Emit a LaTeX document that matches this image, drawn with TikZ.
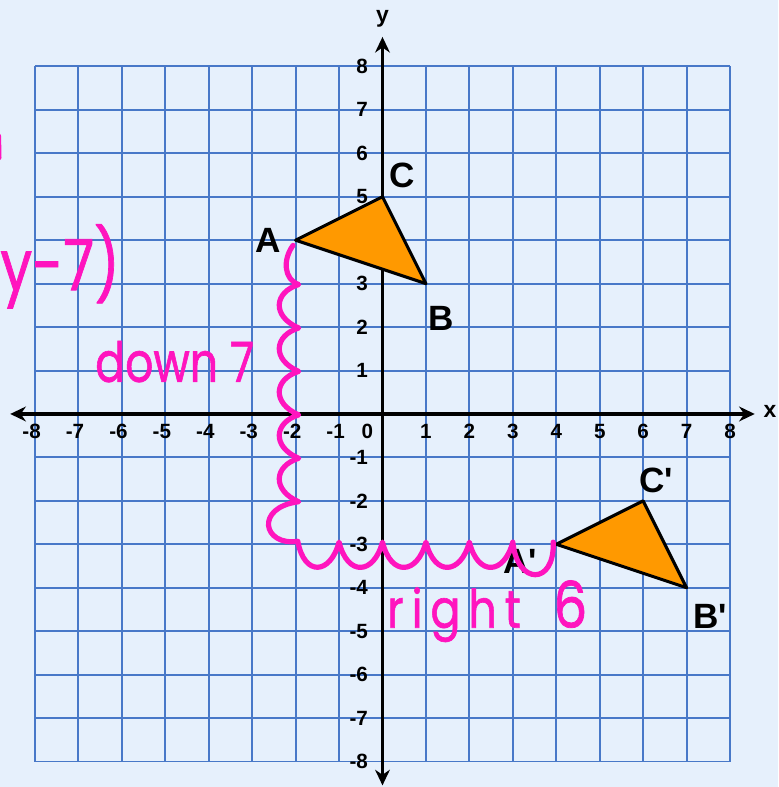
\documentclass[tikz,border=0pt]{standalone}
\usepackage{graphicx}
\usepackage{fontspec}
\setmainfont{Liberation Sans}
\newfontfamily\lbl{Liberation Sans}
\newfontfamily\hand{Poppins}[FakeBold=1.2]
\usetikzlibrary{arrows.meta}
\definecolor{paper}{RGB}{230,240,252}
\definecolor{gridblue}{RGB}{72,120,200}
\definecolor{tri}{RGB}{255,153,0}
\definecolor{pen}{RGB}{255,20,190}
\tikzset{
  gridline/.style={draw=gridblue,line width=1.3pt},
  axis/.style={line width=2.1pt,{Stealth[length=3.6mm,width=3.4mm]}-{Stealth[length=3.6mm,width=3.4mm]}},
  tick/.style={font=\fontsize{13.5}{14}\selectfont\bfseries,inner sep=0pt},
  ptlabel/.style={font=\lbl\fontsize{23}{24}\selectfont\bfseries,inner sep=0pt},
  trifill/.style={draw=black,fill=tri,line width=2pt,line join=round},
  wave/.style={draw=pen,line width=3.4pt,line cap=round,line join=round},
  note/.style={text=pen,font=\hand\fontsize{29}{30}\selectfont,inner sep=0pt},
}

\begin{document}
\begin{tikzpicture}
  \fill[paper] (-8.805,-8.587) rectangle (9.105,9.53);
  \useasboundingbox (-8.805,-8.587) rectangle (9.105,9.53);
  \clip (-8.805,-8.587) rectangle (9.105,9.53);

  % grid
  \foreach \i in {-8,...,8} {
    \draw[gridline] (\i,-8) -- (\i,8);
    \draw[gridline] (-8,\i) -- (8,\i);
  }

  % axes
  \draw[axis] (-8.57,0) -- (8.57,0);
  \draw[axis] (0,-8.55) -- (0,8.68);
  \node[tick,font=\fontsize{15}{16}\selectfont\bfseries] (xlab) at (8.92,0.05) {x};
  \node[tick,font=\fontsize{15}{16}\selectfont\bfseries] (ylab) at (0,9.1) {y};

  \foreach \x in {-8,...,-1,1,2,...,8}
    \node[tick,anchor=east] (xt\x) at (\x+0.14,-0.41) {\x};
  \foreach \y in {-8,...,-1,1,2,...,8}
    \node[tick,anchor=east] (yt\y) at (-0.33,\y) {\y};
  \node[tick,anchor=east] (zero) at (-0.21,-0.41) {0};

  % triangles
  \coordinate (A) at (-2,4);
  \coordinate (B) at (1,3);
  \coordinate (C) at (0,5);
  \coordinate (Ap) at (4,-3);
  \coordinate (Bp) at (7,-4);
  \coordinate (Cp) at (6,-2);
  \draw[trifill] (A) -- (B) -- (C) -- cycle;
  \draw[trifill] (Ap) -- (Bp) -- (Cp) -- cycle;

  \node[ptlabel] (lA) at (-2.64,4.0) {A};
  \node[ptlabel] (lB) at (1.35,2.21) {B};
  \node[ptlabel] (lC) at (0.45,5.5) {C};
  \node[ptlabel] (lAp) at (3.17,-3.39) {A'};
  \node[ptlabel] (lBp) at (7.54,-4.65) {B'};
  \node[ptlabel] (lCp) at (6.3,-1.54) {C'};

  % hand-drawn path: down 7, then right 6
  \draw[wave] (-2.06,3.88) .. controls (-2.3,3.55) and (-2.27,3.1) .. (-1.93,2.98)
    \foreach \y in {3,2,1,0,-1} {
      .. controls (-2.5,\y-0.2) and (-2.55,\y-0.75) .. (-1.93,\y-1.02) }
    .. controls (-2.95,-2.15) and (-2.75,-3.05) .. (-1.95,-2.93)
    \foreach \x in {-2,...,2} {
      .. controls (\x+0.2,-3.75) and (\x+0.8,-3.7) .. (\x+1,-2.95) }
    .. controls (3.1,-3.95) and (3.97,-3.95) .. (3.93,-2.95);

  \node[note,anchor=base west] (down) at (-6.62,0.74)
    {\scalebox{1}[1.25]{down 7}};
  \node[note,anchor=base west] (right) at (0.1,-4.92)
    {\scalebox{1}[1.2]{{\addfontfeature{LetterSpace=18}right}\hspace{0.75cm}{\fontsize{35}{36}\selectfont 6}}};
  \node[note,anchor=base east,font=\hand\fontsize{37}{38}\selectfont] (rule) at (-6.04,2.85)
    {\scalebox{1}[1.25]{y-7)}};
  \draw[wave] (-8.84,6.4) -- (-8.83,5.9);
\end{tikzpicture}
\end{document}
